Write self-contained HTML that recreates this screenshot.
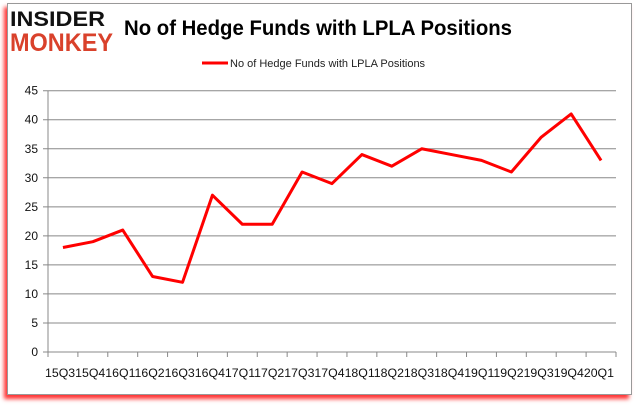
<!DOCTYPE html>
<html><head><meta charset="utf-8"><style>
body{margin:0;width:637px;height:408px;background:#fff;overflow:hidden;font-family:"Liberation Sans",sans-serif}
#frame{position:absolute;left:7px;top:3px;width:623px;height:390px;border:1px solid #999;background:#fff;box-shadow:-3px 4px 4px rgba(255,0,0,0.8)}
</style></head><body>
<div id="frame"></div>
<svg width="637" height="408" style="position:absolute;left:0;top:0">
<text x="10" y="26" font-size="21" font-weight="900" font-family="Liberation Sans" fill="#111" textLength="95" lengthAdjust="spacingAndGlyphs">INSIDER</text>
<text x="10" y="51" font-size="25" font-weight="900" font-family="Liberation Sans" fill="#d9412b" textLength="103" lengthAdjust="spacingAndGlyphs">MONKEY</text>
<text x="124" y="35" font-size="21" font-weight="bold" fill="#000" textLength="388" lengthAdjust="spacingAndGlyphs">No of Hedge Funds with LPLA Positions</text>
<line x1="202" y1="63" x2="228" y2="63" stroke="#f00" stroke-width="3"/>
<text x="230" y="67" font-size="11" fill="#222">No of Hedge Funds with  LPLA Positions</text>
<g id="g"></g>
</svg>
<script>
const categories=["15Q3","15Q4","16Q1","16Q2","16Q3","16Q4","17Q1","17Q2","17Q3","17Q4","18Q1","18Q2","18Q3","18Q4","19Q1","19Q2","19Q3","19Q4","20Q1"];
const values=[18,19,21,13,12,27,22,22,31,29,34,32,35,34,33,31,37,41,33];
const yTicks=[0,5,10,15,20,25,30,35,40,45];
const NS="http://www.w3.org/2000/svg",g=document.getElementById('g');
const L=48,R=616,T=90.7,B=352,yMax=45;
const y=v=>B-(v/yMax)*(B-T);
const bw=(R-L)/categories.length;
const x=i=>L+bw*(i+0.5);
function mk(t,a){const e=document.createElementNS(NS,t);for(const k in a)e.setAttribute(k,a[k]);g.appendChild(e);return e;}
yTicks.forEach(v=>{
 const ln=mk('line',{x1:L-5,x2:R,y1:y(v),y2:y(v),stroke:'#888','stroke-width':1});
 
 
 const t=mk('text',{x:L-10,y:y(v)+4,'font-size':12,'text-anchor':'end',fill:'#111'});
 t.textContent=v;
 
 
});
const ax=mk('line',{x1:L,x2:L,y1:T,y2:B,stroke:'#888'});


categories.forEach((c,i)=>{
 const tk=mk('line',{x1:L+bw*i,x2:L+bw*i,y1:B,y2:B+5,stroke:'#888'});
 
 
});
const lt=mk('line',{x1:R,x2:R,y1:B,y2:B+5,stroke:'#888'});


const lbl=mk('text',{x:L-3,y:377,'font-size':11.5,fill:'#111',textLength:R-L+1,lengthAdjust:'spacingAndGlyphs'});
lbl.textContent=categories.join('');


const p=mk('polyline',{points:values.map((v,i)=>x(i)+','+y(v)).join(' '),fill:'none',stroke:'#f00','stroke-width':3,'stroke-linejoin':'round'});


</script>
</body></html>
